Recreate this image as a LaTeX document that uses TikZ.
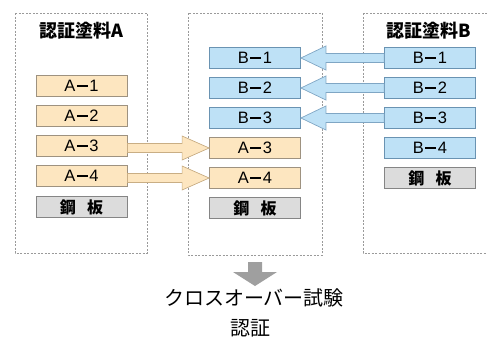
\documentclass[tikz,border=0pt]{standalone}
\usepackage{fontspec}
\setmainfont{Noto Sans CJK JP}
\newfontfamily\labfont{Liberation Sans}
\usetikzlibrary{calc}
\definecolor{ofill}{HTML}{FDE6C0}
\definecolor{odraw}{HTML}{9E9280}
\definecolor{bfill}{HTML}{BEE1F6}
\definecolor{bdraw}{HTML}{6A93B2}
\definecolor{gfill}{HTML}{DCDCDC}
\definecolor{gdraw}{HTML}{858585}
\definecolor{aodraw}{HTML}{C9AE84}
\definecolor{abdraw}{HTML}{7FA6C4}
\definecolor{frame}{HTML}{9A9A9A}
\newcommand\harrow[4]{%
  \path[#1] let \p1=(#2), \p2=(#3), \p3=($(#3)+(#4,0)$) in
  (\x1,\y2+4.5pt) -- (\x3,\y2+4.5pt) -- (\x3,\y2+12pt) -- (\x2,\y2)
  -- (\x3,\y2-12pt) -- (\x3,\y2-4.5pt) -- (\x1,\y2-4.5pt) -- cycle;}
\newcommand\lab[2]{#1\kern1.5pt\raisebox{5pt}{\rule{11pt}{1.7pt}}\kern1.5pt#2}
\begin{document}
\begin{tikzpicture}[x=1pt,y=-1pt,
  layer/.style={draw, line width=0.8pt, minimum width=91pt, minimum height=21pt, inner sep=0pt,
    font=\labfont\fontsize{16.5}{16.5}\selectfont},
  olayer/.style={layer, fill=ofill, draw=odraw},
  blayer/.style={layer, fill=bfill, draw=bdraw},
  steel/.style={layer, fill=gfill, draw=gdraw, font=\fontsize{16}{16}\selectfont\bfseries},
  title/.style={font=\fontsize{18}{18}\selectfont\bfseries, inner sep=0pt},
  group/.style={draw=frame, line width=0.7pt, dash pattern=on 2pt off 1.5pt},
  oarrow/.style={fill=ofill, draw=aodraw, line width=0.7pt},
  barrow/.style={fill=bfill, draw=abdraw, line width=0.7pt},
  caption/.style={font=\fontsize{20}{20}\selectfont, inner sep=0pt}]
\useasboundingbox (0,0) rectangle (487,338);
\clip (0,0) rectangle (487,338);
% group frames
\draw[group] (15,13) rectangle (147,253);
\draw[group] (188,13) rectangle (322,255);
\draw[group] (363,13) rectangle (500,253);
% titles
\node[title] (ta) at (81,31) {認証塗料A};
\node[title] (tb) at (429,31) {認証塗料B};
% left column
\node[olayer] (la1) at (81.5,86) {\lab{A}{1}};
\node[olayer] (la2) at (81.5,116) {\lab{A}{2}};
\node[olayer] (la3) at (81.5,146) {\lab{A}{3}};
\node[olayer] (la4) at (81.5,176) {\lab{A}{4}};
\node[steel]  (ls)  at (81.5,207) {鋼\kern0.7em板};
% middle column
\node[blayer] (mb1) at (255,58) {\lab{B}{1}};
\node[blayer] (mb2) at (255,88) {\lab{B}{2}};
\node[blayer] (mb3) at (255,118) {\lab{B}{3}};
\node[olayer] (ma3) at (255,148) {\lab{A}{3}};
\node[olayer] (ma4) at (255,178) {\lab{A}{4}};
\node[steel]  (ms)  at (255,208) {鋼\kern0.7em板};
% right column
\node[blayer] (rb1) at (430,58) {\lab{B}{1}};
\node[blayer] (rb2) at (430,88) {\lab{B}{2}};
\node[blayer] (rb3) at (430,118) {\lab{B}{3}};
\node[blayer] (rb4) at (430,148) {\lab{B}{4}};
\node[steel]  (rs)  at (430,178) {鋼\kern0.7em板};
% block arrows
\harrow{oarrow}{la3.east}{ma3.west}{-27}
\harrow{oarrow}{la4.east}{ma4.west}{-27}
\harrow{barrow}{rb1.west}{mb1.east}{25}
\harrow{barrow}{rb2.west}{mb2.east}{25}
\harrow{barrow}{rb3.west}{mb3.east}{25}
% down arrow
\fill[gray!75] (248,262) -- (262,262) -- (262,272) -- (277,272) -- (255,286)
  -- (233,272) -- (248,272) -- cycle;
% caption
\node[caption] (c1) at (254,298) {クロスオーバー試験};
\node[caption] (c2) at (250,328) {認証};
\end{tikzpicture}
\end{document}
